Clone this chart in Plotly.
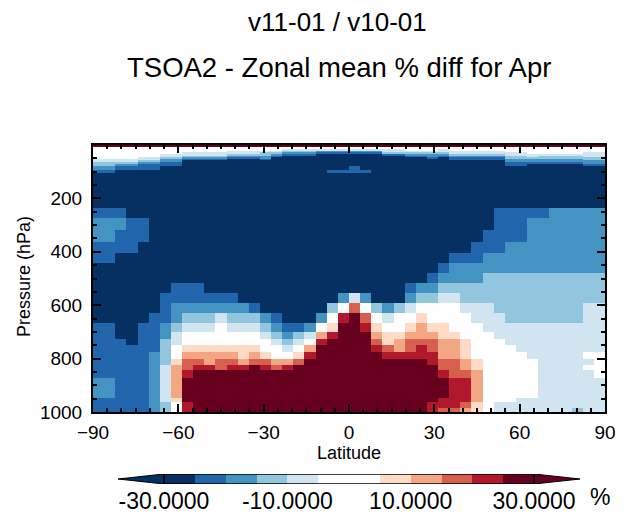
import numpy as np
import plotly.graph_objects as go

# ---------------- data ----------------
lat_ticks = [-90, -60, -30, 0, 30, 60, 90]
pressure_ticks = [200, 400, 600, 800, 1000]
n_lat = 46
lat_edges = np.linspace(-90, 90, n_lat + 1)
pressure_edges = [0, 8, 16, 22, 28, 34, 40, 46, 52, 58, 65, 72, 79, 94, 106, 120,
                  140, 162, 186, 210, 237, 275, 318, 362, 403, 441, 478, 516, 553,
                  593, 630, 668, 700, 725, 750, 775, 800, 825, 843, 871, 900, 921,
                  946, 963, 984, 1000]

# colour class of every cell -> representative % diff
code_values = {"0": -35.0, "1": -22.5, "2": -17.5, "3": -12.5, "4": -7.5, "5": 0.0,
               "6": 7.5, "7": 12.5, "8": 17.5, "9": 22.5, "X": 35.0}

# one string per latitude column (south -> north), top (0 hPa) -> bottom (1000 hPa)
lat_columns = [
    "X 5555555443321 000000 1221100 00001111111 1222111",
    "X 5555555443321 000000 1221100 00001111111 1222111",
    "X 5555555443210 000000 1211000 00000011111 1111111",
    "X 5555555443210 000000 0111000 00000001111 1111111",
    "X 5555554432110 000000 0110000 00001111111 1111111",
    "X 5555554432110 000000 0000000 00011111222 2222222",
    "X 5555443221100 000000 0000000 01112233334 4444433",
    "X 5555443221100 000000 0000000 11223445567 7777655",
    "X 5554432100000 000000 0000000 11234556788 9XXXX99",
    "X 5554432100000 000000 0000000 11234556789 XXXXXXX",
    "X 5554432100000 000000 0000000 01234556779 XXXXXXX",
    "X 5554432100000 000000 0000000 01245556788 XXXXXXX",
    "X 5544321000000 000000 0000000 01234556789 XXXXXXX",
    "X 5544321000000 000000 0000000 00234556679 XXXXXXX",
    "X 5544321000000 000000 0000000 0013455678X XXXXXXX",
    "X 5543322100000 000000 0000000 00023455689 XXXXXXX",
    "X 5543210000000 000000 0000000 00012345578 XXXXXXX",
    "X 5432100000000 000000 0000000 00001234579 XXXXXXX",
    "X 5432100000000 000000 0000000 0000134568X XXXXXXX",
    "X 5432100000000 000000 0000000 000024579XX XXXXXXX",
    "X 5421000000000 000000 0000000 0002579XXXX XXXXXXX",
    "X 5421000000001 000000 0000000 003569XXXXX XXXXXXX",
    "X 5421000000001 000000 0000000 0259XXXXXXX XXXXXXX",
    "X 5421000000011 000000 0000000 048XXXXXXXX XXXXXXX",
    "X 5421000000001 000000 0000000 02589XXXXXX XXXXXXX",
    "X 5421000000000 000000 0000000 00356789XXX XXXXXXX",
    "X 5443100000000 000000 0000000 002456689XX XXXXXXX",
    "X 5443100000000 000000 0000000 003556779XX XXXXXXX",
    "X 5543210000000 000000 0000000 124567889XX XXXXXXX",
    "X 5543210000000 000000 0000000 235677899XX XXXXXXX",
    "X 5543221000000 000000 0000001 2355678899X XXXXX99",
    "X 5443210000000 000000 0000012 34556677788 9XXX998",
    "X 5544321100000 000000 0000122 34555677788 8999998",
    "X 5544321100000 000000 0000122 33455566677 8999987",
    "X 5544321100000 000000 0001122 33445555566 7777766",
    "X 5544321100000 000000 0011223 33444555555 5555555",
    "X 5544321100000 000000 1111223 33344455555 5555544",
    "X 5554433221100 000000 1112223 33334445555 5555544",
    "X 5554433221100 000000 1112223 33334444555 5555444",
    "X 5555443221000 000000 1222223 33334444455 5555444",
    "X 5555433221000 000000 1222223 33334444444 4444444",
    "X 5555433221000 000000 2222223 33334444444 4444444",
    "X 5555433221000 000000 2222223 33334444444 4444444",
    "X 5555433221000 000000 2222223 33334444444 4444443",
    "X 5554443322100 000000 2222223 33444444545 4444444",
    "X 5554443322100 000000 2222223 33444444555 5444444",
]

levels = [-30, -25, -20, -15, -10, -5, 0, 5, 10, 15, 20, 25, 30]
level_colors = ["#053061", "#2166ac", "#4393c3", "#92c5de", "#d1e5f0", "#ffffff",
                "#ffffff", "#fddbc7", "#f4a582", "#d6604d", "#b2182b", "#67001f"]
cb_tickvals = [-30, -10, 10, 30]
cb_ticktext = ["-30.0000", "-10.0000", "10.0000", "30.0000"]

# ---------------- build ----------------
cols = [[code_values[c] for c in s.replace(" ", "")] for s in lat_columns]
assert all(len(c) == len(pressure_edges) - 1 for c in cols)
z = np.array(cols).T

zmin, zmax = levels[0], levels[-1]
nb = len(level_colors)
colorscale = []
for i, c in enumerate(level_colors):
    colorscale.append([i / nb, c])
    colorscale.append([(i + 1) / nb, c])

# page body has an 8 px margin, so the figure is made 8 px smaller each way
OFF = 8
W, H = 631 - OFF, 514 - OFF
FONT = "Liberation Sans, Arial, Helvetica, sans-serif"


def px(x):
    return (x - OFF) / W


def py(y):
    return 1 - (y - OFF) / H


fig = go.Figure()
fig.add_trace(go.Heatmap(x=lat_edges, y=pressure_edges, z=z, colorscale=colorscale,
                         zmin=zmin, zmax=zmax, showscale=False, zsmooth=False,
                         xaxis="x", yaxis="y", hoverinfo="skip"))

# colour bar drawn on its own small axes
mids = [(levels[i] + levels[i + 1]) / 2 for i in range(nb)]
fig.add_trace(go.Heatmap(x=levels, y=[0, 1], z=[mids], colorscale=colorscale,
                         zmin=zmin, zmax=zmax, showscale=False, xaxis="x2",
                         yaxis="y2", hoverinfo="skip"))
ext = 7.46
fig.add_trace(go.Scatter(x=[zmin, zmin - ext, zmin, zmin], y=[0, 0.5, 1, 0],
                         fill="toself", fillcolor=level_colors[0], mode="lines",
                         line=dict(color="black", width=1), xaxis="x2", yaxis="y2",
                         hoverinfo="skip", showlegend=False))
fig.add_trace(go.Scatter(x=[zmax, zmax + ext, zmax, zmax], y=[0, 0.5, 1, 0],
                         fill="toself", fillcolor=level_colors[-1], mode="lines",
                         line=dict(color="black", width=1), xaxis="x2", yaxis="y2",
                         hoverinfo="skip", showlegend=False))
fig.add_trace(go.Scatter(x=[zmin, zmax, None, zmin, zmax, None, zmin, zmin, None, zmax, zmax],
                         y=[0, 0, None, 1, 1, None, 0, 1, None, 0, 1],
                         mode="lines", line=dict(color="black", width=1.5),
                         xaxis="x2", yaxis="y2", hoverinfo="skip", showlegend=False))

axis_common = dict(showline=True, linecolor="black", linewidth=2, mirror="ticks",
                   ticks="inside", tickcolor="black", tickwidth=1.5, ticklen=8,
                   showgrid=False, zeroline=False, automargin=False,
                   tickfont=dict(family=FONT, size=19, color="black"))

fig.update_layout(
    width=W, height=H,
    margin=dict(l=0, r=0, t=0, b=0, autoexpand=False),
    paper_bgcolor="white", plot_bgcolor="white",
    showlegend=False,
    font=dict(family=FONT, color="black"),
    xaxis=dict(domain=[px(93), px(605)], range=[-90, 90], tickmode="array",
               tickvals=lat_ticks, ticklabelstandoff=2,
               minor=dict(tickmode="linear", tick0=-90, dtick=5, ticks="inside",
                          ticklen=4, tickwidth=1.5, tickcolor="black", showgrid=False),
               anchor="y", **axis_common),
    yaxis=dict(domain=[py(412), py(145)], range=[1000, 0], tickmode="array",
               tickvals=pressure_ticks, ticklabelstandoff=5,
               minor=dict(tickmode="linear", tick0=0, dtick=50, ticks="inside",
                          ticklen=4, tickwidth=1.5, tickcolor="black", showgrid=False),
               anchor="x", **axis_common),
    xaxis2=dict(domain=[px(118), px(580)], range=[zmin - ext, zmax + ext],
                anchor="y2", tickmode="array", tickvals=cb_tickvals,
                ticktext=cb_ticktext, ticks="", showline=False, showgrid=False,
                zeroline=False, ticklabelstandoff=1, automargin=False,
                tickfont=dict(family=FONT, size=23, color="black")),
    yaxis2=dict(domain=[py(484), py(474)], range=[0, 1], visible=False,
                anchor="x2", automargin=False),
)

ann = [
    dict(text="v11-01 / v10-01", x=px(338), y=py(22.5), size=26),
    dict(text="TSOA2 - Zonal mean % diff for Apr", x=px(339), y=py(67), size=27.5),
    dict(text="Latitude", x=px(349), y=py(453), size=18),
    dict(text="%", x=px(600), y=py(497), size=23),
]
for a in ann:
    fig.add_annotation(text=a["text"], x=a["x"], y=a["y"], xref="paper", yref="paper",
                       xanchor="center", yanchor="middle", showarrow=False,
                       font=dict(family=FONT, size=a["size"], color="black"))
fig.add_annotation(text="Pressure (hPa)", x=px(24), y=py(277), xref="paper",
                   yref="paper", xanchor="center", yanchor="middle", showarrow=False,
                   textangle=-90, font=dict(family=FONT, size=18, color="black"))

fig.write_html("out.html")
